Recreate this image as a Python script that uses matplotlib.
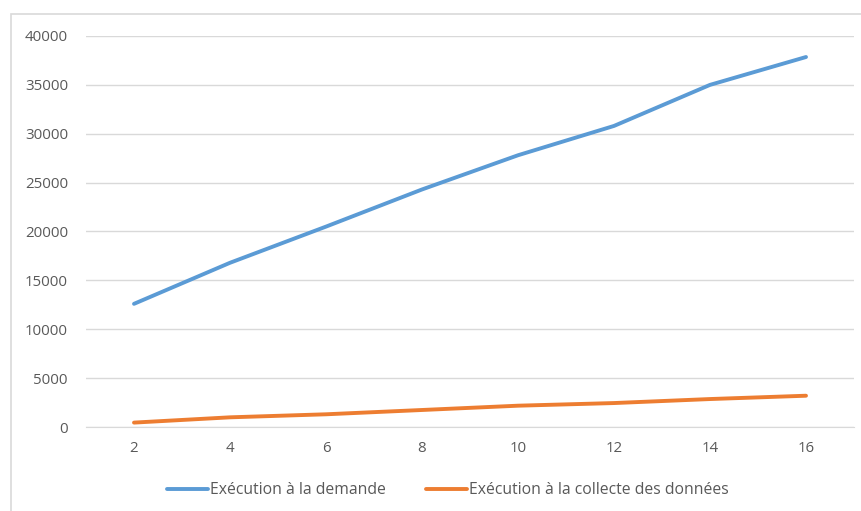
import matplotlib
matplotlib.use("Agg")
import matplotlib.pyplot as plt
from matplotlib.patches import Rectangle

categories = ["2", "4", "6", "8", "10", "12", "14", "16"]
demande = [12600, 16800, 20500, 24300, 27800, 30800, 35000, 37850]
collecte = [450, 990, 1300, 1740, 2180, 2450, 2860, 3200]
series_labels = ["Exécution à la demande", "Exécution à la collecte des données"]
yticks = [0, 5000, 10000, 15000, 20000, 25000, 30000, 35000, 40000]

plt.rcParams['font.family'] = ['Open Sans', 'DejaVu Sans']
text_color = "#595959"
fs = 10.8

fig = plt.figure(figsize=(8.62, 5.11), dpi=100)
fig.patches.append(Rectangle((11/862, -10/511), 870/862, 507/511, transform=fig.transFigure,
                             fill=False, edgecolor="#d9d9d9", linewidth=1.2))
ax = fig.add_axes([86/862, 84/511, 768/862, 391/511])

x = list(range(len(categories)))
l1, = ax.plot(x, demande, color="#5b9bd5", linewidth=2.8, solid_capstyle="round")
l2, = ax.plot(x, collecte, color="#ed7d31", linewidth=2.8, solid_capstyle="round")

ax.set_xlim(-0.5, len(categories) - 0.5)
ax.set_ylim(0, 40000)
ax.set_yticks(yticks)
ax.set_yticklabels([str(v) for v in yticks])
ax.set_xticks(x)
ax.set_xticklabels(categories)
ax.grid(axis="y", color="#d9d9d9", linewidth=1)
ax.set_axisbelow(True)
for s in ["top", "right", "left"]:
    ax.spines[s].set_visible(False)
ax.spines["bottom"].set_color("#d9d9d9")
ax.tick_params(axis="both", length=0, colors=text_color, labelsize=fs)
ax.tick_params(axis="y", pad=13)
ax.tick_params(axis="x", pad=10)

fig.legend([l1, l2], series_labels, loc="center", bbox_to_anchor=(448/862, 21/511),
           ncol=2, frameon=False, fontsize=11.3, labelcolor=text_color,
           handlelength=2.6, handletextpad=0.12, columnspacing=2.6)

fig.savefig("out.png", dpi=100)
